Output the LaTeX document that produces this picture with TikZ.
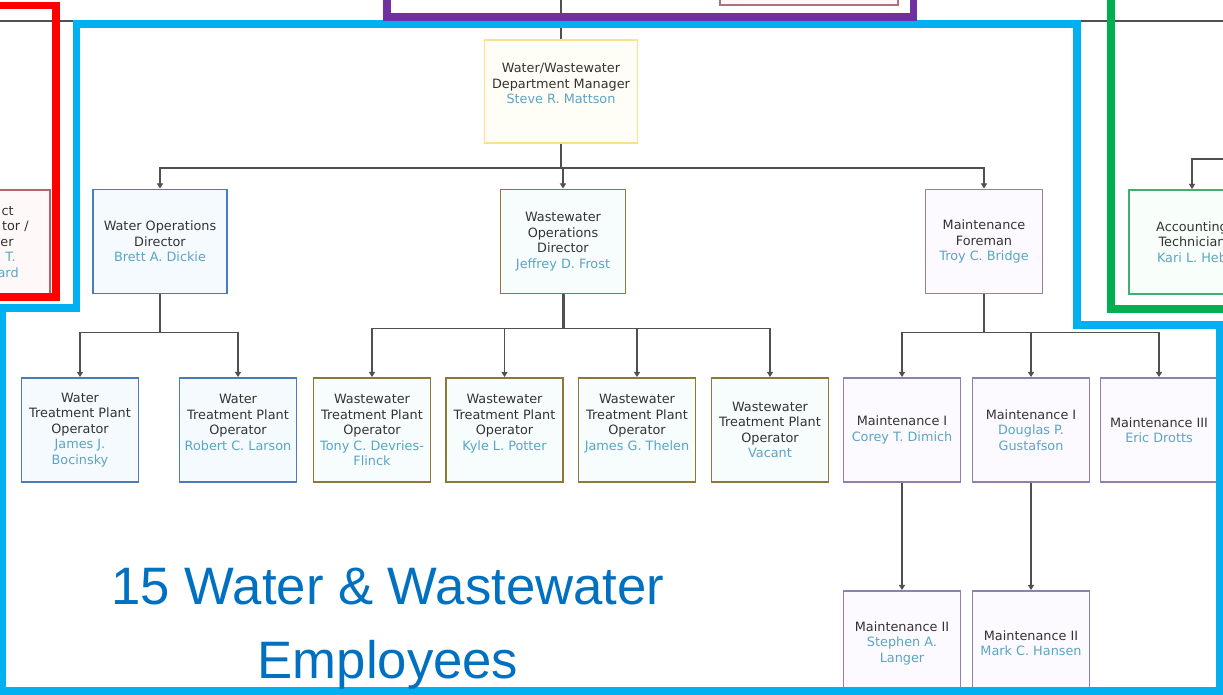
\documentclass[tikz,border=0pt]{standalone}
\usepackage{fontspec}
\usepackage{xcolor}
\usetikzlibrary{arrows.meta}
\setmainfont{DejaVu Sans}
\newfontfamily\bigfont{Liberation Sans}

\definecolor{titlecol}{HTML}{333333}
\definecolor{namecol}{HTML}{5AA5C5}
\definecolor{conncol}{HTML}{505050}
\definecolor{wblue}{HTML}{4A7DB8}
\definecolor{wbluefill}{HTML}{F5FAFE}
\definecolor{wwgold}{HTML}{8C7838}
\definecolor{wwfill}{HTML}{F7FCFC}
\definecolor{mpurple}{HTML}{9080B0}
\definecolor{mfill}{HTML}{FCFAFE}
\definecolor{mgryellow}{HTML}{FFE08A}
\definecolor{mgrfill}{HTML}{FFFEF6}
\definecolor{adminred}{HTML}{C0606A}
\definecolor{adminfill}{HTML}{FFF8F8}
\definecolor{acctgreen}{HTML}{40B070}
\definecolor{acctfill}{HTML}{F8FFFA}
\definecolor{boardcol}{HTML}{B07080}
\definecolor{hlred}{HTML}{FF0000}
\definecolor{hlpurple}{HTML}{7030A0}
\definecolor{hlcyan}{HTML}{00B0F0}
\definecolor{hlgreen}{HTML}{00B050}
\definecolor{bigblue}{HTML}{0070C0}

\newcommand{\boxfont}{\fontsize{7.3}{8.8}\selectfont}
\newcommand{\nm}[1]{\textcolor{namecol}{#1}}
\newcommand{\cutline}[2]{\makebox[2cm][r]{#1\kern#2}}

\tikzset{
  box/.style={draw, line width=1.1pt, minimum width=2.34cm, minimum height=2.08cm,
    align=center, inner sep=1pt, font=\boxfont, text=titlecol},
  wbox/.style={box, draw=wblue, fill=wbluefill},
  wwbox/.style={box, draw=wwgold, fill=wwfill},
  mbox/.style={box, draw=mpurple, fill=mfill},
  conn/.style={draw=conncol, line width=1.1pt},
  arr/.style={conn, -{Triangle[length=3pt,width=3.5pt]}},
  hl/.style={line width=4.5pt, line join=miter},
}

\begin{document}
\begin{tikzpicture}[x=0.02cm, y=-0.02cm]
    \useasboundingbox (0,0) rectangle (1223,694);
    \clip (0,0) rectangle (1223,694);
    \fill[white] (0,0) rectangle (1223,694);

    % Top bus
    \coordinate (busleft) at (-20,21);
    \coordinate (busright) at (1250,21);
    \draw[conn] (busleft) -- (busright);

    % Clipped neighbours
    \node[box, draw=boardcol, fill=adminfill, minimum width=3.56cm] (board) at (809,-47) {};
    \node[box, draw=adminred, fill=adminfill] (admin) at (-8.5,242) {};
    \node[font=\boxfont, text=titlecol, anchor=east, align=right, inner sep=0pt] (admintxt) at (29,242)
        {\cutline{ct}{3mm}\\\cutline{tor /}{0mm}\\\cutline{er}{3mm}\\\cutline{\nm{T.}}{2.6mm}\\\cutline{\nm{ard}}{2mm}};
    \node[box, draw=acctgreen, fill=acctfill, minimum width=2.52cm] (acct) at (1192,242)
        {Accounting\\Technician\\\nm{Kari L. Heb}};

    % Manager and directors
    \node[box, draw=mgryellow, fill=mgrfill, minimum width=3.06cm, minimum height=2.06cm] (mgr) at (561,91.5)
        {Water/Wastewater\\Department Manager\\\nm{Steve R. Mattson}\\~};
    \node[wbox, minimum width=2.68cm] (wod) at (160,241.5) {Water Operations\\Director\\\nm{Brett A. Dickie}};
    \node[wwbox, minimum width=2.5cm] (wwod) at (563,241.5) {Wastewater\\Operations\\Director\\\nm{Jeffrey D. Frost}};
    \node[mbox] (mf) at (984,241.5) {Maintenance\\Foreman\\\nm{Troy C. Bridge}};

    % Operators
    \node[wbox] (wtp1) at (80,430) {Water\\Treatment Plant\\Operator\\\nm{James J.}\\\nm{Bocinsky}};
    \node[wbox] (wtp2) at (238,430) {Water\\Treatment Plant\\Operator\\\nm{Robert C. Larson}\\~};
    \node[wwbox] (ww1) at (372,430) {Wastewater\\Treatment Plant\\Operator\\\nm{Tony C. Devries-}\\\nm{Flinck}};
    \node[wwbox] (ww2) at (504.5,430) {Wastewater\\Treatment Plant\\Operator\\\nm{Kyle L. Potter}\\~};
    \node[wwbox] (ww3) at (637,430) {Wastewater\\Treatment Plant\\Operator\\\nm{James G. Thelen}\\~};
    \node[wwbox] (ww4) at (770,430) {Wastewater\\Treatment Plant\\Operator\\\nm{Vacant}};

    % Maintenance
    \node[mbox] (m1a) at (902,430) {Maintenance I\\\nm{Corey T. Dimich}};
    \node[mbox] (m1b) at (1031,430) {Maintenance I\\\nm{Douglas P.}\\\nm{Gustafson}};
    \node[mbox] (m3) at (1159,430) {Maintenance III\\\nm{Eric Drotts}};
    \node[mbox] (m2a) at (902,643) {Maintenance II\\\nm{Stephen A.}\\\nm{Langer}};
    \node[mbox] (m2b) at (1031,643) {Maintenance II\\\nm{Mark C. Hansen}};

    % Connectors
    \coordinate (mgrin) at (561,-20);
    \draw[conn] (mgrin) -- (mgr.north);
    \coordinate (acctbus) at (1250,159);
    \draw[arr] (acctbus) -| (acct.north);
    \foreach \c in {wod,wwod,mf}
        \draw[arr] (mgr.south) -- ++(0,24) -| (\c.north);
    \foreach \c in {wtp1,wtp2}
        \draw[arr] (wod.south) -- ++(0,38) -| (\c.north);
    \draw[conn, line width=1.7pt] (wwod.south) -- ++(0,34);
    \foreach \c in {ww1,ww2,ww3,ww4}
        \draw[arr] (wwod.south) -- ++(0,34) -| (\c.north);
    \foreach \c in {m1a,m1b,m3}
        \draw[arr] (mf.south) -- ++(0,38) -| (\c.north);
    \draw[arr] (m1a.south) -- (m2a.north);
    \draw[arr] (m1b.south) -- (m2b.north);

    % Highlight frames
    \draw[hl, hlred] (-20,5.5) -- (56,5.5) -- (56,297) -- (-20,297);
    \draw[hl, hlcyan] (2,308) -- (76.5,308) -- (76.5,24) -- (1077,24) -- (1077,325)
        -- (1220,325) -- (1220,691) -- (2,691) -- cycle;
    \draw[hl, hlpurple] (387,-20) -- (387,16.7) -- (913.5,16.7) -- (913.5,-20);
    \draw[hl, hlgreen] (1111,-20) -- (1111,309) -- (1250,309);

    % Count
    \node[font=\bigfont\fontsize{30}{42}\selectfont, text=bigblue, align=center] (count) at (388,628.5)
        {15 Water \& Wastewater\\Employees};
\end{tikzpicture}
\end{document}
